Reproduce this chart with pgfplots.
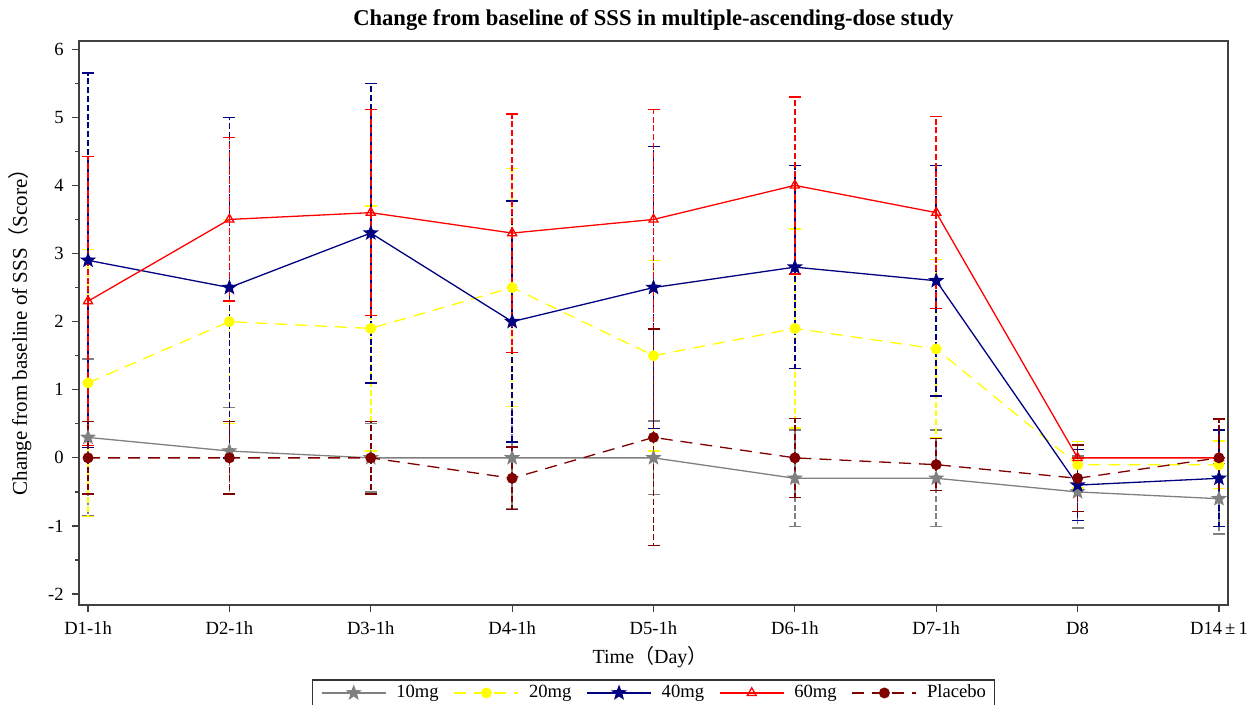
\documentclass[border=0pt]{standalone}
\usepackage{fontspec}
\setmainfont{Liberation Serif}
\newfontfamily\cjk{Noto Sans CJK SC}
\usepackage{pgfplots}
\usepackage{pgfplotstable}
\pgfplotsset{compat=1.18}

\definecolor{c10}{RGB}{128,128,128}
\definecolor{c20}{RGB}{255,255,0}
\definecolor{c40}{RGB}{0,0,128}
\definecolor{c60}{RGB}{255,0,0}
\definecolor{cpl}{RGB}{128,0,0}

\pgfdeclareplotmark{fivestar}{%
  \pgfpathmoveto{\pgfpointpolar{90}{\pgfplotmarksize}}%
  \pgfpathlineto{\pgfpointpolar{126}{0.42\pgfplotmarksize}}%
  \pgfpathlineto{\pgfpointpolar{162}{\pgfplotmarksize}}%
  \pgfpathlineto{\pgfpointpolar{198}{0.42\pgfplotmarksize}}%
  \pgfpathlineto{\pgfpointpolar{234}{\pgfplotmarksize}}%
  \pgfpathlineto{\pgfpointpolar{270}{0.42\pgfplotmarksize}}%
  \pgfpathlineto{\pgfpointpolar{306}{\pgfplotmarksize}}%
  \pgfpathlineto{\pgfpointpolar{342}{0.42\pgfplotmarksize}}%
  \pgfpathlineto{\pgfpointpolar{18}{\pgfplotmarksize}}%
  \pgfpathlineto{\pgfpointpolar{54}{0.42\pgfplotmarksize}}%
  \pgfpathclose\pgfusepathqfillstroke}

\pgfplotstableread{
x y e
0 0.3 1.15
1 0.1 0.64
2 0 0.5
3 0 0.75
4 0 0.54
5 -0.3 0.71
6 -0.3 0.71
7 -0.5 0.53
8 -0.6 0.52
}\tA
\pgfplotstableread{
x y e
0 1.1 1.96
1 2.0 1.5
2 1.9 1.8
3 2.5 1.75
4 1.5 1.4
5 1.9 1.46
6 1.6 1.31
7 -0.1 0.34
8 -0.1 0.35
}\tB
\pgfplotstableread{
x y e
0 2.9 2.75
1 2.5 2.5
2 3.3 2.2
3 2.0 1.77
4 2.5 2.07
5 2.8 1.49
6 2.6 1.69
7 -0.4 0.52
8 -0.3 0.71
}\tC
\pgfplotstableread{
x y e
0 2.3 2.12
1 3.5 1.2
2 3.6 1.51
3 3.3 1.75
4 3.5 1.61
5 4.0 1.3
6 3.6 1.41
7 0 0
8 0 0
}\tD
\pgfplotstableread{
x y e
0 0 0.53
1 0 0.53
2 0 0.53
3 -0.3 0.46
4 0.3 1.59
5 0 0.58
6 -0.1 0.38
7 -0.3 0.49
8 0 0.57
}\tE

\begin{document}
\begin{tikzpicture}
\begin{axis}[
  at={(0,0)}, anchor=south west,
  scale only axis, width=574.5pt, height=282pt,
  xmin=-0.064, xmax=8.064, ymin=-2.16, ymax=6.12,
  xtick={0,...,8},
  xticklabels={D1-1h,D2-1h,D3-1h,D4-1h,D5-1h,D6-1h,D7-1h,D8,D14\,±\,1},
  ytick={-2,...,6},
  yticklabels={-2,-1,0,1,2,3,4,5,6},
  minor ytick={-1.5,-0.5,0.5,1.5,2.5,3.5,4.5,5.5},
  /pgf/number format/assume math mode=true,
  tick align=outside,
  xtick pos=bottom, ytick pos=left,
  major tick length=3.5pt, minor tick length=2pt,
  axis line style={draw=black!75, line width=0.8pt},
  every tick/.style={draw=black!75, line width=0.6pt},
  tick label style={font=\fontsize{9.3}{11}\selectfont},
  xticklabel style={anchor=center, yshift=-8pt},
  yticklabel style={anchor=east, inner sep=0pt, xshift=-4pt},
  title={Change from baseline of SSS in multiple-ascending-dose study},
  title style={at={(0.5,1)}, anchor=center, yshift=4.5pt, font=\bfseries\fontsize{11.3}{13}\selectfont},
  xlabel={Time{\cjk （}Day{\cjk ）}},
  xlabel style={at={(axis description cs:0.497,-0.092)}, anchor=center, font=\fontsize{10}{12}\selectfont},
  ylabel={Change from baseline of SSS{\cjk （}Score{\cjk ）}},
  ylabel style={at={(axis description cs:-0.0513,0.493)}, anchor=center, rotate=0, font=\fontsize{10.5}{12}\selectfont},
  legend columns=5,
  legend style={at={(0.5,-0.156)}, anchor=center, draw=black!80, line width=0.6pt,
    font=\fontsize{9.3}{11}\selectfont, inner xsep=4.3pt, inner ysep=1.5pt,
    nodes={inner xsep=0pt, inner ysep=1pt},
    /tikz/every odd column/.append style={column sep=5pt},
    /tikz/every even column/.append style={column sep=7.5pt}},
  legend image code/.code={\draw[mark repeat=2,mark phase=2,#1] plot coordinates {(0pt,0pt)(16pt,0pt)(32pt,0pt)};},
  error bars/y dir=both, error bars/y explicit,
  error bars/error bar style={dash pattern=on 3pt off 1.4pt, line width=0.8pt},
  error bars/error mark options={solid, rotate=90, mark size=3pt, line width=0.7pt},
]
\addplot[c10, line width=0.65pt, mark=fivestar, mark size=3.3pt, mark options={solid, fill=c10}]
  table[x=x, y=y, y error=e]{\tA};
\addlegendentry{10mg}
\addplot[c20, line width=0.65pt, dash pattern=on 6pt off 4pt, mark=*, mark size=2.4pt, mark options={solid, fill=c20}]
  table[x=x, y=y, y error=e]{\tB};
\addlegendentry{20mg}
\addplot[c40, line width=0.65pt, mark=fivestar, mark size=3.3pt, mark options={solid, fill=c40}]
  table[x=x, y=y, y error=e]{\tC};
\addlegendentry{40mg}
\addplot[c60, line width=0.65pt, mark=triangle, mark size=2.6pt, mark options={solid}]
  table[x=x, y=y, y error=e]{\tD};
\addlegendentry{60mg}
\addplot[cpl, line width=0.65pt, dash pattern=on 6pt off 4pt, mark=*, mark size=2.4pt, mark options={solid, fill=cpl}]
  table[x=x, y=y, y error=e]{\tE};
\addlegendentry{Placebo}
\end{axis}
\pgfresetboundingbox
\useasboundingbox (-39.5pt,-50pt) rectangle (589pt,302.5pt);
\end{tikzpicture}
\end{document}
